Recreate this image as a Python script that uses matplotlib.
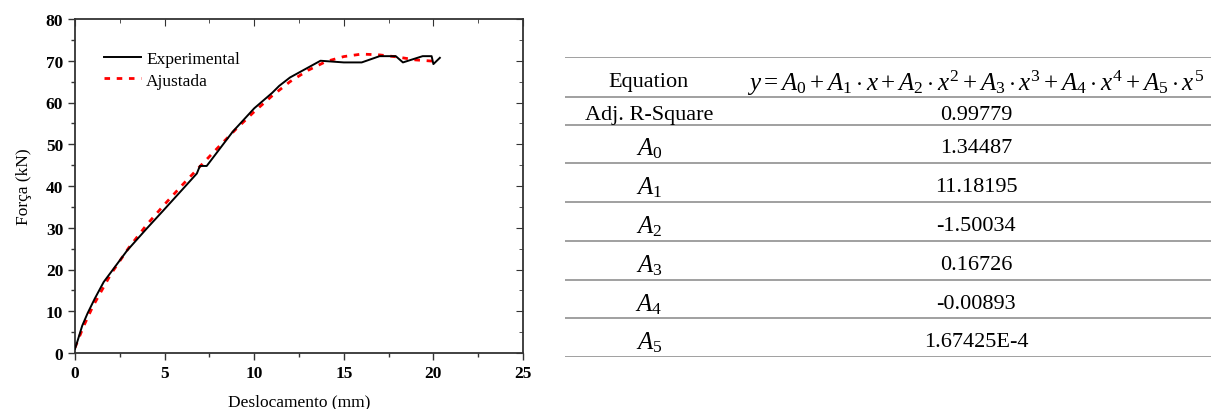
import matplotlib
matplotlib.use('Agg')
import matplotlib.pyplot as plt
from matplotlib.ticker import MultipleLocator

matplotlib.rcParams.update({
	'font.family': 'Liberation Serif',
	'mathtext.fontset': 'custom',
	'mathtext.rm': 'Liberation Serif',
	'mathtext.it': 'Liberation Serif:italic',
	'font.size': 12,
})

# experimental curve
exp_x = [0, 0.15, 0.4, 0.7, 1.1, 1.6, 2.9, 4.0, 4.9, 6.0, 6.8, 6.97, 7.35, 8.8, 10.0, 11.0, 11.4, 12.0, 13.7, 15.0, 16.0, 17.0, 17.9, 18.3, 19.4, 19.9, 20.0, 20.36]
exp_y = [1.0, 3.0, 6.5, 9.5, 13.0, 17.0, 24.5, 29.8, 34.0, 39.2, 43.0, 44.8, 44.8, 53.0, 58.6, 62.3, 64.0, 66.0, 70.0, 69.6, 69.6, 71.1, 71.1, 69.6, 71.1, 71.1, 69.2, 70.7]

# fitted curve
fit_x = [0, 0.5, 1, 2, 3, 4, 5, 6, 7, 8, 9, 10, 11, 12, 13, 14, 15, 16, 17, 18, 19, 20]
fit_y = [1.3, 6.6, 11.2, 18.9, 25.2, 30.7, 35.6, 40.3, 44.8, 49.3, 53.7, 57.8, 61.6, 65.0, 67.7, 69.8, 71.0, 71.6, 71.4, 70.9, 70.2, 69.9]

# table contents
row_names = ['Equation', 'Adj. R-Square', '$A_0$', '$A_1$', '$A_2$', '$A_3$', '$A_4$', '$A_5$']
row_values = [r'$y = A_0 + A_1 \cdot x + A_2 \cdot x^2 + A_3 \cdot x^3 + A_4 \cdot x^4 + A_5 \cdot x^5$',
	'0.99779', '1.34487', '11.18195', '-1.50034', '0.16726', '-0.00893', '1.67425E-4']
row_heights = [40, 27, 38.3, 39, 38.4, 38.3, 38.3, 38.4]

W, H = 1211, 410
fig = plt.figure(figsize=(W/100, H/100), dpi=100)

ax = fig.add_axes([75/W, 1 - 354/H, 448/W, 334/H])
ax.plot(fit_x, fit_y, color='red', lw=2, dashes=(2, 2.4), label='Ajustada', zorder=2)
ax.plot(exp_x, exp_y, color='black', lw=1.4, label='Experimental', zorder=3)
ax.set_xlim(0, 25)
ax.set_ylim(0, 80)
ax.xaxis.set_major_locator(MultipleLocator(5))
ax.xaxis.set_minor_locator(MultipleLocator(2.5))
ax.yaxis.set_major_locator(MultipleLocator(10))
ax.yaxis.set_minor_locator(MultipleLocator(5))
ax.tick_params(which='both', direction='out', width=1, color='#333333')
ax.tick_params(which='major', length=5)
ax.tick_params(which='minor', length=3)
for lab in ax.get_xticklabels() + ax.get_yticklabels():
	lab.set_fontweight('bold')
	lab.set_fontsize(12.5)
for s in ax.spines.values():
	s.set_linewidth(1.3)
	s.set_color('#333333')
# inward ticks on top and right
top = ax.secondary_xaxis('top')
top.set_xticks(range(0, 26, 5))
top.xaxis.set_minor_locator(MultipleLocator(2.5))
top.tick_params(which='both', direction='in', labeltop=False, color='#333333')
top.tick_params(which='major', length=5)
top.tick_params(which='minor', length=3)
top.spines['top'].set_visible(False)
right = ax.secondary_yaxis('right')
right.set_yticks(range(0, 81, 10))
right.yaxis.set_minor_locator(MultipleLocator(5))
right.tick_params(which='both', direction='in', labelright=False, color='#333333')
right.tick_params(which='major', length=5)
right.tick_params(which='minor', length=3)
right.spines['right'].set_visible(False)

ax.set_xlabel('Deslocamento (mm)', fontsize=12.5, labelpad=9)
ax.set_ylabel('Força (kN)', fontsize=12.5, labelpad=10)
h, l = ax.get_legend_handles_labels()
ax.legend(h[::-1], l[::-1], loc='upper left', bbox_to_anchor=(0.05, 0.925), frameon=False,
	fontsize=12.5, handlelength=2.1, handletextpad=0.3, labelspacing=0.3, borderaxespad=0)

# table
tab = fig.add_axes([565/W, 1 - 358/H, (W - 565)/W, (358 - 58)/H])
tab.set_xlim(565, W)
total = sum(row_heights)
tab.set_ylim(total, 0)
tab.axis('off')
y0 = 0
tab.axhline(0, color='#999999', lw=1.3)
for i, (name, val, hgt) in enumerate(zip(row_names, row_values, row_heights)):
	yc = y0 + hgt / 2 + 1.5
	fs_name = 18 if name.startswith('$') else 16
	tab.text(649, yc, name, ha='center', va='center_baseline', fontsize=fs_name)
	tab.text(976, yc, val, ha='center', va='center_baseline', fontsize=18 if i == 0 else 16)
	y0 += hgt
	tab.axhline(y0, color='#999999', lw=1.3)

fig.savefig('out.png', dpi=100)
